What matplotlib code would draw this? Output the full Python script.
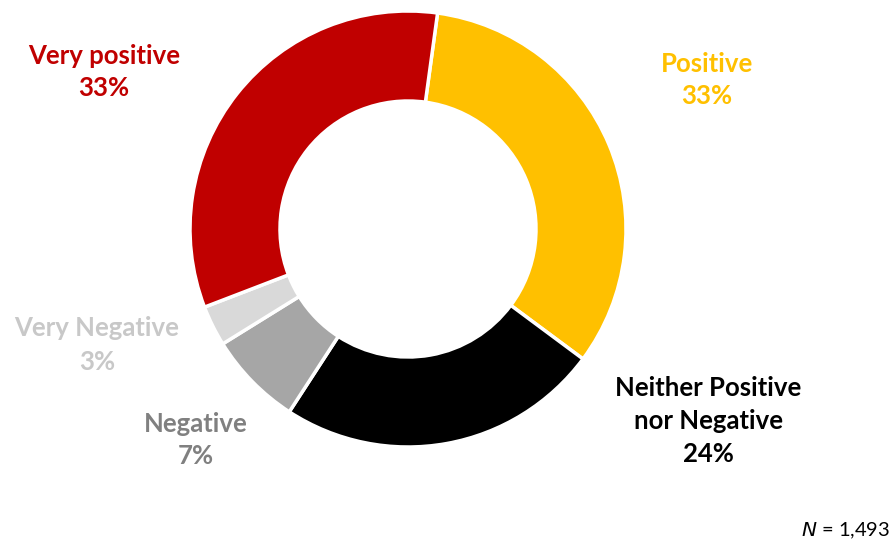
import matplotlib.pyplot as plt

# responses, clockwise from the top
labels = ["Positive", "Neither Positive\nnor Negative", "Negative", "Very Negative", "Very positive"]
shares = [33, 24, 7, 3, 33]
slice_colors = ["#FFC000", "#000000", "#A6A6A6", "#D9D9D9", "#C00000"]
text_colors = ["#FFC000", "#000000", "#808080", "#C8C8C8", "#C00000"]
n_resp = "1,493"

plt.rcParams['font.family'] = ['Lato', 'DejaVu Sans']

fig = plt.figure(figsize=(8.96, 5.44), dpi=100)
ax = fig.add_axes([0, 0, 1, 1])

W = 544  # flip y so positions read like pixels from the top
ax.pie(shares, colors=slice_colors, startangle=82.2, counterclock=False,
       center=(408, W - 229), radius=218,
       wedgeprops=dict(width=90, edgecolor='white', linewidth=2.5))

# pie() resets the limits, so set them afterwards
ax.set_xlim(0, 896)
ax.set_ylim(0, 544)
ax.set_aspect('equal')
ax.axis('off')

# label positions (x, y from top)
label_pos = [(707, 80), (708, 421), (196, 440), (97, 345), (104, 72)]
for lab, val, col, (x, y) in zip(labels, shares, text_colors, label_pos):
    ax.text(x, W - y, "%s\n%d%%" % (lab, val), color=col, fontsize=18.5,
            fontweight='bold', ha='center', va='center', linespacing=1.45)

ax.text(890, W - 531, r"$\it{N}$ = " + n_resp, fontsize=14.5, ha='right', va='center',
        color='black')

fig.savefig("out.png", dpi=100)
